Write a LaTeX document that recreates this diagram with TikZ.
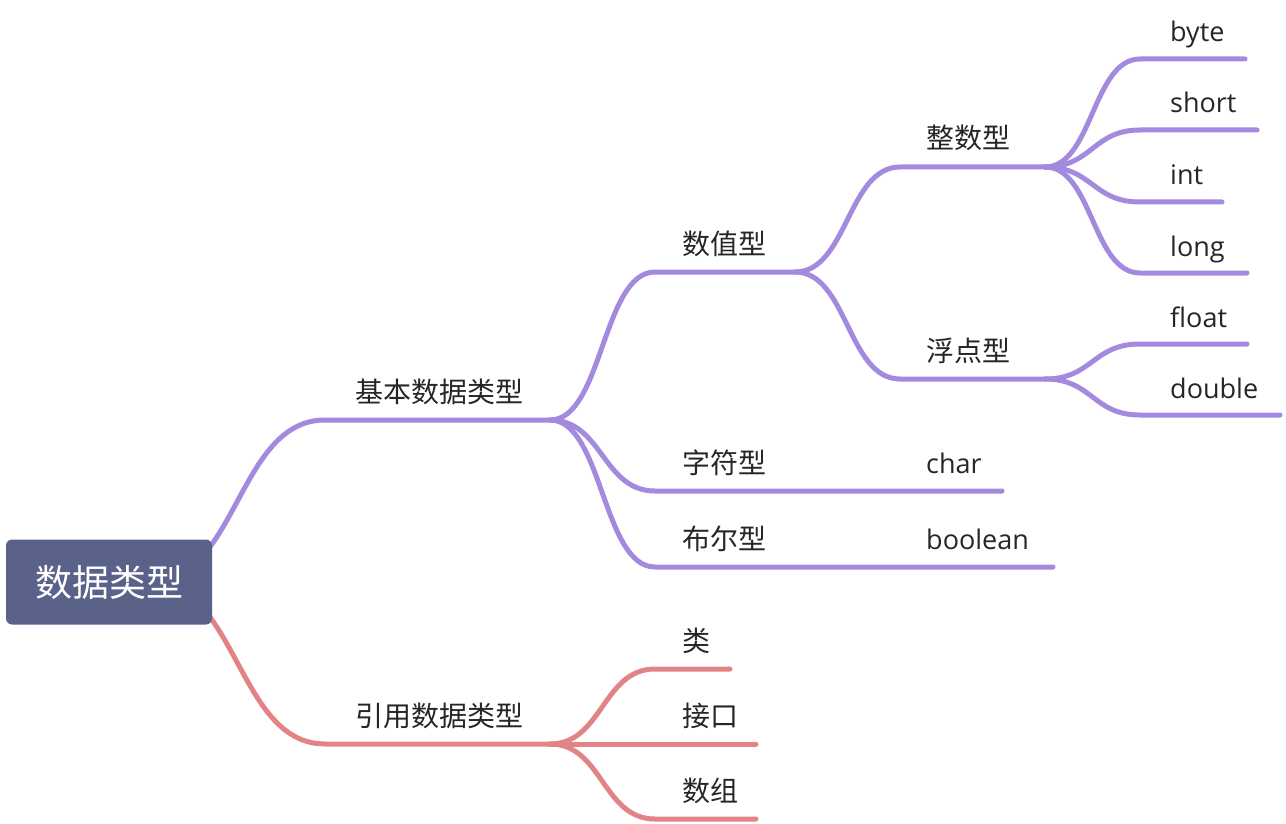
\documentclass[tikz,border=0pt]{standalone}
\usepackage{fontspec}
\setmainfont{Open Sans}
\newfontfamily\cjk{Noto Sans CJK SC}
\usetikzlibrary{calc,positioning}
\definecolor{mmpurple}{RGB}{164,138,222}
\definecolor{mmred}{RGB}{226,132,134}
\definecolor{mmroot}{RGB}{90,98,138}
\definecolor{mmtext}{RGB}{38,38,38}

\begin{document}
\begin{tikzpicture}[x=1pt,y=-1pt]
    \tikzset{
        purplebranch/.style={draw=mmpurple, line width=5pt, line cap=round},
        redbranch/.style={draw=mmred, line width=5pt, line cap=round},
        topic/.style={anchor=base west, inner sep=0pt, text=mmtext, font=\cjk\fontsize{28}{30}\selectfont},
        word/.style={anchor=base west, inner sep=0pt, text=mmtext, font=\fontsize{27}{30}\selectfont},
        fork/.style={to path={.. controls ($(\tikztostart)!0.5!(\tikztostart -| \tikztotarget)$) and ($(\tikztotarget)!0.5!(\tikztotarget -| \tikztostart)$) .. (\tikztotarget)}},
        rootbox/.style={fill=mmroot, rounded corners=6pt, minimum width=206pt, minimum height=85pt, text=white, font=\cjk\fontsize{37}{40}\selectfont},
    }
    \useasboundingbox (0,0) rectangle (1286,824);

    % line ends
    \coordinate (root-out) at (150,582);
    \coordinate (jb-s) at (325,420);   \coordinate (jb-e) at (550,420);
    \coordinate (yy-s) at (325,744);   \coordinate (yy-e) at (550,744);
    \coordinate (szx-s) at (655,272);  \coordinate (szx-e) at (795,272);
    \coordinate (zfx-s) at (655,491);  \coordinate (zfx-e) at (900,491);
    \coordinate (bex-s) at (655,567);  \coordinate (bex-e) at (900,567);
    \coordinate (zs-s) at (900,167);   \coordinate (zs-e) at (1045,167);
    \coordinate (fd-s) at (900,379);   \coordinate (fd-e) at (1045,379);
    \coordinate (char-e) at (1002,491);
    \coordinate (boolean-e) at (1053,567);
    \coordinate (lei-s) at (655,669);  \coordinate (lei-e) at (730,669);
    \coordinate (jk-e) at (756,744);
    \coordinate (sz-s) at (655,819);   \coordinate (sz-e) at (756,819);

    % purple branch
    \draw[purplebranch] (root-out) to[fork] (jb-s) -- (jb-e);
    \draw[purplebranch] (jb-e) to[fork] (szx-s) -- (szx-e);
    \draw[purplebranch] (jb-e) to[fork] (zfx-s) -- (zfx-e) -- (char-e);
    \draw[purplebranch] (jb-e) to[fork] (bex-s) -- (bex-e) -- (boolean-e);
    \draw[purplebranch] (szx-e) to[fork] (zs-s) -- (zs-e);
    \draw[purplebranch] (szx-e) to[fork] (fd-s) -- (fd-e);
    \foreach \leaf/\y/\len in {byte/59/1245, short/130/1257, int/202/1222, long/273/1247} {
        \coordinate (\leaf-s) at (1140,\y);
        \coordinate (\leaf-e) at (\len,\y);
        \draw[purplebranch] (zs-e) to[fork] (\leaf-s) -- (\leaf-e);
        \node[word] (\leaf) at (1170,\y-17) {\leaf};
    }
    \foreach \leaf/\y/\len in {float/344/1247, double/415/1280} {
        \coordinate (\leaf-s) at (1140,\y);
        \coordinate (\leaf-e) at (\len,\y);
        \draw[purplebranch] (fd-e) to[fork] (\leaf-s) -- (\leaf-e);
        \node[word] (\leaf) at (1170,\y-17) {\leaf};
    }

    % red branch
    \draw[redbranch] (root-out) to[fork] (yy-s) -- (yy-e);
    \draw[redbranch] (yy-e) to[fork] (lei-s) -- (lei-e);
    \draw[redbranch] (yy-e) -- (jk-e);
    \draw[redbranch] (yy-e) to[fork] (sz-s) -- (sz-e);

    % root on top of the line starts
    \node[rootbox] (root) at (109,582) {数据类型};

    % topic texts
    \node[topic] (jb) at (355,402) {基本数据类型};
    \node[topic] (yy) at (355,726) {引用数据类型};
    \node[topic] (szx) at (682,254) {数值型};
    \node[topic] (zfx) at (682,473) {字符型};
    \node[topic] (bex) at (682,549) {布尔型};
    \node[topic] (zs) at (926,149) {整数型};
    \node[topic] (fd) at (926,361) {浮点型};
    \node[word] (char) at (926,473) {char};
    \node[word] (boolean) at (926,549) {boolean};
    \node[topic] (lei) at (682,651) {类};
    \node[topic] (jk) at (682,726) {接口};
    \node[topic] (sz) at (682,801) {数组};
\end{tikzpicture}
\end{document}
